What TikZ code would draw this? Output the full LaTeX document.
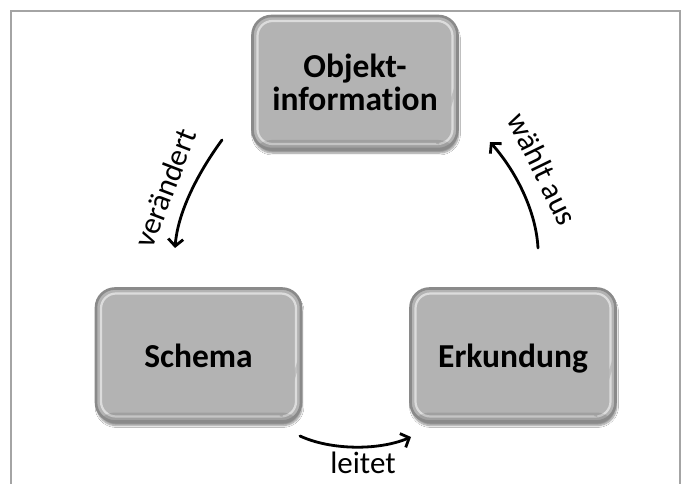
\documentclass[tikz,border=0pt]{standalone}
\usepackage{fontspec}
\setmainfont{Carlito}[Ligatures={NoCommon}]
\usetikzlibrary{arrows.meta,shadows.blur}

\definecolor{boxfill}{HTML}{B3B3B3}
\definecolor{boxedge}{HTML}{8A8A8A}
\definecolor{framegray}{HTML}{A4A4A4}

\tikzset{
  stagebox/.style={
    rounded corners=19pt, minimum width=205pt, minimum height=133pt,
    inner sep=0pt, align=center, fill=boxfill, draw=boxedge, line width=2.6pt,
    font=\bfseries\fontsize{33.5}{33}\selectfont,
    blur shadow={shadow xshift=1pt, shadow yshift=-4pt, shadow blur steps=8,
                 shadow blur extra rounding=3pt, shadow opacity=45},
    path picture={
      % bevel: light rim on the upper left, darker band along the bottom
      \draw[white, opacity=.55, line width=2.2pt, rounded corners=15pt]
        ([shift={(5pt,-5pt)}]path picture bounding box.north west) rectangle
        ([shift={(-5pt,5pt)}]path picture bounding box.south east);
      \draw[boxfill, opacity=.7, line width=3pt]
        ([shift={(20pt,-5pt)}]path picture bounding box.north east) --
        ([shift={(-20pt,5pt)}]path picture bounding box.south east);
      \fill[black, opacity=.10]
        ([shift={(0pt,9pt)}]path picture bounding box.south west) rectangle
        (path picture bounding box.south east);
    }
  },
  oneline/.style={text height=24pt, text depth=0pt},
  steplabel/.style={font=\fontsize{31}{32}\selectfont, inner sep=0pt},
  flow/.style={line width=2.8pt, line cap=round,
               -{Straight Barb[length=7pt,width=15pt,line width=2.8pt]}}
}

\begin{document}
\begin{tikzpicture}[x=1pt,y=1pt]
  \useasboundingbox (0,0) rectangle (689,-484);
  \fill[white] (0,0) rectangle (689,-484);

  % open frame round the figure
  \draw[framegray, line width=2pt] (11,-490) -- (11,-11) -- (680,-11) -- (680,-490);

  % the three stages
  \node[stagebox] (obj) at (355,-82.5) {Objekt-\\information};
  \node[stagebox, oneline] (schema) at (198.5,-355) {Schema};
  \node[stagebox, oneline] (erk) at (513,-355) {Erkundung};

  % arrow end points between the stages
  \coordinate (vA) at (222,-140);
  \coordinate (vB) at (175,-248);
  \coordinate (lA) at (300,-436);
  \coordinate (lB) at (411,-437);
  \coordinate (wA) at (538,-248);
  \coordinate (wB) at (490,-142);

  \draw[flow] (vA) .. controls (200,-170) and (178,-210) .. (vB);
  \draw[flow] (lA) .. controls (330,-450) and (378,-451) .. (lB);
  \draw[flow] (wA) .. controls (536,-210) and (515,-170) .. (wB);

  \node[steplabel, rotate=69] (lv) at (165,-188) {verändert};
  \node[steplabel] (ll) at (363,-463) {leitet};
  \node[steplabel, rotate=-64] (lw) at (543,-169) {wählt aus};
\end{tikzpicture}
\end{document}
